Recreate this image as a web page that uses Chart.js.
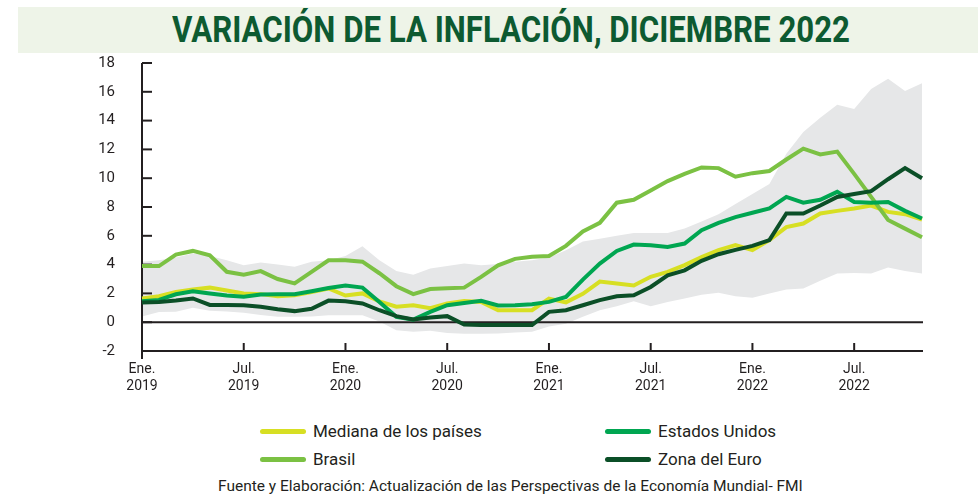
<!DOCTYPE html>
<html lang="es">
<head>
<meta charset="utf-8">
<title>Variación de la inflación, diciembre 2022</title>
<script src="https://cdn.jsdelivr.net/npm/chart.js@4.4.1/dist/chart.umd.min.js"></script>
<style>
  html, body {
    margin: 0;
    padding: 0;
    background: #ffffff;
  }
  body {
    position: relative;
    width: 978px;
    height: 494px;
    overflow: hidden;
    font-family: Roboto, "Noto Sans", sans-serif;
    color: #231f20;
  }
  #titleBand {
    position: absolute;
    left: 18px;
    top: 7px;
    width: 960px;
    height: 46px;
    background: #eef4e8;
  }
  #title {
    position: absolute;
    left: 0;
    top: 9px;
    white-space: nowrap;
    font-weight: 700;
    font-size: 36px;
    line-height: 42px;
    color: #0d5a31;
    transform-origin: 0 0;
  }
  #chartBox {
    position: absolute;
    left: 0;
    top: 54px;
    width: 978px;
    height: 346px;
  }
  #legend {
    position: absolute;
    left: 260px;
    top: 417px;
    display: grid;
    grid-template-columns: 345px 300px;
    grid-auto-rows: 28px;
  }
  .legend-item {
    display: flex;
    align-items: center;
    font-size: 17px;
    white-space: nowrap;
  }
  .legend-swatch {
    width: 46px;
    height: 5px;
    border-radius: 3px;
    margin-right: 7px;
  }
  #footer {
    position: absolute;
    left: 218px;
    top: 477px;
    font-size: 15.5px;
    white-space: nowrap;
  }
</style>
</head>
<body>
<div id="titleBand"></div>
<div id="title">VARIACIÓN DE LA INFLACIÓN, DICIEMBRE 2022</div>
<div id="chartBox"><canvas id="inflacionChart"></canvas></div>
<div id="legend"></div>
<div id="footer">Fuente y Elaboración: Actualización de las Perspectivas de la Economía Mundial- FMI</div>

<script>
// meses (ene. 2019 - nov. 2022)
const months = [
  "Ene. 2019", "Feb. 2019", "Mar. 2019", "Abr. 2019", "May. 2019", "Jun. 2019",
  "Jul. 2019", "Ago. 2019", "Sep. 2019", "Oct. 2019", "Nov. 2019", "Dic. 2019",
  "Ene. 2020", "Feb. 2020", "Mar. 2020", "Abr. 2020", "May. 2020", "Jun. 2020",
  "Jul. 2020", "Ago. 2020", "Sep. 2020", "Oct. 2020", "Nov. 2020", "Dic. 2020",
  "Ene. 2021", "Feb. 2021", "Mar. 2021", "Abr. 2021", "May. 2021", "Jun. 2021",
  "Jul. 2021", "Ago. 2021", "Sep. 2021", "Oct. 2021", "Nov. 2021", "Dic. 2021",
  "Ene. 2022", "Feb. 2022", "Mar. 2022", "Abr. 2022", "May. 2022", "Jun. 2022",
  "Jul. 2022", "Ago. 2022", "Sep. 2022", "Oct. 2022", "Nov. 2022"
];

const mediana = [
  1.65, 1.8, 2.1, 2.27, 2.4, 2.2, 2.0, 1.95, 1.8, 1.87, 2.1, 2.34,
  1.85, 2.0, 1.45, 1.08, 1.18, 0.97, 1.3, 1.48, 1.41, 0.83, 0.83, 0.83,
  1.64, 1.38, 1.97, 2.82, 2.69, 2.55, 3.15, 3.5, 3.96, 4.52, 5.0, 5.35,
  5.0, 5.7, 6.6, 6.85, 7.55, 7.73, 7.9, 8.1, 7.66, 7.5, 7.13
];

const estadosUnidos = [
  1.46, 1.55, 1.94, 2.15, 1.99, 1.85, 1.76, 1.92, 1.94, 1.94, 2.15, 2.38,
  2.55, 2.4, 1.41, 0.37, 0.18, 0.72, 1.18, 1.34, 1.48, 1.16, 1.18, 1.25,
  1.41, 1.76, 2.96, 4.07, 4.95, 5.39, 5.35, 5.23, 5.46, 6.39, 6.9, 7.3,
  7.6, 7.9, 8.7, 8.3, 8.5, 9.05, 8.35, 8.3, 8.35, 7.73, 7.2
];

const brasil = [
  3.9, 3.9, 4.7, 4.95, 4.65, 3.5, 3.3, 3.55, 3.0, 2.7, 3.5, 4.3,
  4.3, 4.2, 3.4, 2.5, 1.95, 2.3, 2.35, 2.4, 3.15, 3.95, 4.4, 4.55,
  4.6, 5.3, 6.3, 6.9, 8.3, 8.5, 9.15, 9.8, 10.3, 10.75, 10.7, 10.1,
  10.35, 10.5, 11.3, 12.05, 11.65, 11.85, 10.3, 8.7, 7.1, 6.5, 5.9
];

const zonaEuro = [
  1.37, 1.4, 1.5, 1.65, 1.2, 1.2, 1.17, 1.07, 0.9, 0.77, 0.93, 1.5,
  1.45, 1.3, 0.83, 0.42, 0.19, 0.33, 0.42, -0.16, -0.2, -0.2, -0.2, -0.2,
  0.72, 0.83, 1.18, 1.53, 1.8, 1.87, 2.45, 3.26, 3.6, 4.26, 4.72, 5.02,
  5.3, 5.7, 7.55, 7.55, 8.1, 8.7, 8.9, 9.1, 9.93, 10.7, 10.0
];

// rango entre países (área gris)
const rangoSuperior = [
  4.2, 4.3, 4.5, 4.77, 4.6, 4.3, 3.95, 4.15, 4.0, 3.85, 4.2, 4.3,
  4.6, 5.28, 4.3, 3.55, 3.3, 3.73, 3.9, 4.07, 3.96, 4.05, 4.2, 4.3,
  4.5, 5.0, 5.6, 5.8, 6.0, 6.2, 6.2, 6.2, 6.5, 7.0, 7.5, 8.2,
  8.9, 9.6, 11.7, 13.2, 14.2, 15.1, 14.8, 16.2, 16.9, 16.06, 16.6
];

const rangoInferior = [
  0.4, 0.7, 0.72, 1.0, 0.8, 0.75, 0.65, 0.5, 0.37, 0.37, 0.4, 0.49,
  0.49, 0.49, 0.05, -0.56, -0.67, -0.6, -0.75, -0.8, -0.8, -0.79, -0.72, -0.67,
  -0.3, -0.1, 0.37, 0.83, 1.1, 1.45, 1.1, 1.4, 1.65, 1.9, 2.05, 1.8,
  1.7, 2.0, 2.27, 2.34, 2.87, 3.38, 3.42, 3.38, 3.8, 3.56, 3.38
];

const yTicks = [-2, 0, 2, 4, 6, 8, 10, 12, 14, 16, 18];

const axisColor = "#231f20";

// ejes, marcas hacia dentro y linea del cero
const axesPlugin = {
  id: "axesPlugin",
  beforeDatasetsDraw(chart) {
    const { ctx, chartArea, scales } = chart;
    const x = scales.x;
    const y = scales.y;
    ctx.save();
    ctx.strokeStyle = axisColor;
    ctx.lineWidth = 2;
    ctx.lineCap = "butt";

    // linea del cero
    const y0 = y.getPixelForValue(0);
    ctx.beginPath();
    ctx.moveTo(chartArea.left, y0);
    ctx.lineTo(chartArea.right + 1, y0);
    ctx.stroke();

    // eje y
    ctx.beginPath();
    ctx.moveTo(chartArea.left, chartArea.top);
    ctx.lineTo(chartArea.left, chartArea.bottom + 8);
    ctx.stroke();

    // eje x
    ctx.beginPath();
    ctx.moveTo(chartArea.left, chartArea.bottom);
    ctx.lineTo(chartArea.right + 1, chartArea.bottom);
    ctx.stroke();

    yTicks.forEach((v) => {
      const py = y.getPixelForValue(v);
      ctx.beginPath();
      ctx.moveTo(chartArea.left, py);
      ctx.lineTo(chartArea.left + 10, py);
      ctx.stroke();
    });

    months.forEach((m, i) => {
      if (i === 0) return;
      if (m.startsWith("Ene.") || m.startsWith("Jul.")) {
        const px = x.getPixelForValue(i);
        ctx.beginPath();
        ctx.moveTo(px, chartArea.bottom);
        ctx.lineTo(px, chartArea.bottom - 8);
        ctx.stroke();
      }
    });
    ctx.restore();
  },
};

const lineStyle = {
  borderWidth: 4,
  pointRadius: 0,
  pointHoverRadius: 0,
  tension: 0,
  fill: false,
};

const ctx = document.getElementById("inflacionChart");
const chart = new Chart(ctx, {
  type: "line",
  data: {
    labels: months,
    datasets: [
      {
        label: "Mediana de los países",
        data: mediana,
        borderColor: "#d7df23",
        order: 4,
        ...lineStyle,
      },
      {
        label: "Estados Unidos",
        data: estadosUnidos,
        borderColor: "#00a651",
        order: 2,
        ...lineStyle,
      },
      {
        label: "Brasil",
        data: brasil,
        borderColor: "#7bc143",
        order: 3,
        ...lineStyle,
      },
      {
        label: "Zona del Euro",
        data: zonaEuro,
        borderColor: "#0b4f27",
        order: 1,
        ...lineStyle,
      },
      {
        label: "",
        data: rangoSuperior,
        borderWidth: 0,
        borderColor: "rgba(0,0,0,0)",
        backgroundColor: "#e6e7e8",
        pointRadius: 0,
        tension: 0,
        fill: "+1",
        order: 5,
        isBand: true,
      },
      {
        label: "",
        data: rangoInferior,
        borderWidth: 0,
        borderColor: "rgba(0,0,0,0)",
        pointRadius: 0,
        tension: 0,
        fill: false,
        order: 6,
        isBand: true,
      },
    ],
  },
  options: {
    responsive: true,
    maintainAspectRatio: false,
    animation: false,
    events: [],
    layout: {
      padding: { top: 8, right: 56, left: 0, bottom: 0 },
    },
    plugins: {
      legend: { display: false },
      tooltip: { enabled: false },
      filler: { drawTime: "beforeDatasetsDraw" },
    },
    scales: {
      x: {
        offset: false,
        grid: { display: false, drawTicks: false },
        border: { display: false },
        afterFit: (scale) => {
          scale.height = 49;
        },
        ticks: {
          autoSkip: false,
          maxRotation: 0,
          minRotation: 0,
          padding: 10,
          color: axisColor,
          font: { family: "Roboto", size: 14 },
          callback: function (value, index) {
            const m = months[index];
            if (m.startsWith("Ene.") || m.startsWith("Jul.")) {
              return m.split(" ");
            }
            return "";
          },
        },
      },
      y: {
        min: -2,
        max: 18,
        // tickLength solo separa las etiquetas (no se dibuja la rejilla)
        grid: { display: false, drawTicks: true, tickLength: 27 },
        border: { display: false },
        afterFit: (scale) => {
          scale.width = 142;
        },
        ticks: {
          stepSize: 2,
          padding: 0,
          color: axisColor,
          font: { family: "Roboto", size: 15 },
        },
      },
    },
  },
  plugins: [axesPlugin],
});

// leyenda en dos columnas
const legendEl = document.getElementById("legend");
chart.data.datasets
  .filter((ds) => !ds.isBand)
  .forEach((ds) => {
    const item = document.createElement("div");
    item.className = "legend-item";
    const sw = document.createElement("span");
    sw.className = "legend-swatch";
    sw.style.background = ds.borderColor;
    const txt = document.createElement("span");
    txt.textContent = ds.label;
    item.appendChild(sw);
    item.appendChild(txt);
    legendEl.appendChild(item);
  });

// ajustar el titulo al ancho del original
const title = document.getElementById("title");
const titleWidth = 678;
const w = title.getBoundingClientRect().width;
title.style.transform = "scaleX(" + (titleWidth / w) + ")";
title.style.left = "172px";
</script>
</body>
</html>
